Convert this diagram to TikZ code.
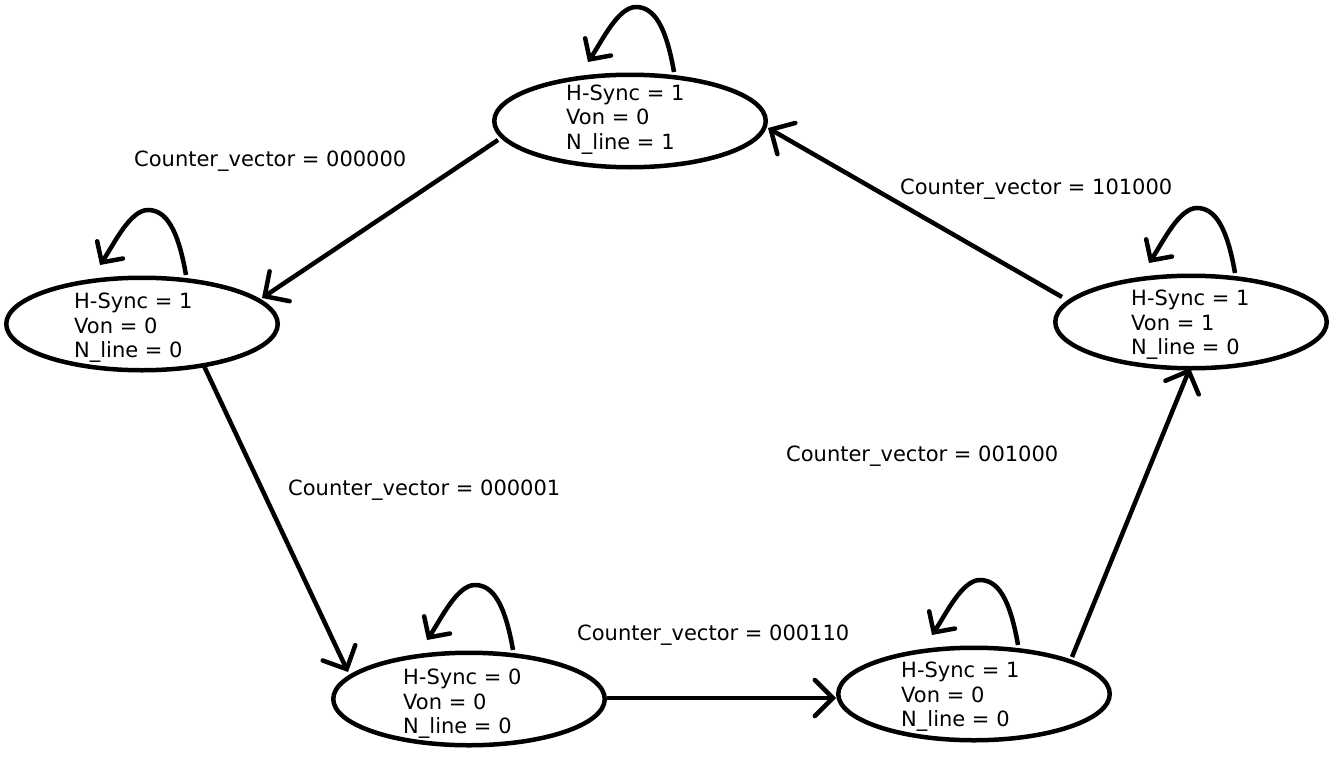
\documentclass[tikz,border=0pt]{standalone}
\usepackage{fontspec}
\setmainfont{DejaVu Sans}
\usetikzlibrary{arrows.meta,shapes.geometric,calc}
\tikzset{
  stnode/.style={draw=black,line width=4.5pt,ellipse,minimum width=271.5pt,minimum height=92.5pt,inner sep=0pt},
  sttext/.style={anchor=west,align=left,inner sep=0pt,font=\fontsize{21}{24.5}\selectfont},
  edgelbl/.style={anchor=base west,inner sep=0pt,font=\fontsize{21}{24.5}\selectfont},
  conn/.style={line width=4.5pt,-{Straight Barb[length=18pt,width=36pt,line cap=round]}},
  selfloop/.style={line width=4.5pt,-{Straight Barb[length=15pt,width=31pt,line cap=round]}}
}
\newcommand{\myloop}[1]{%
  \draw[selfloop] ($(#1.center)+(44,-49)$) .. controls ($(#1.center)+(36,-95)$) and ($(#1.center)+(24,-114)$) .. ($(#1.center)+(6,-114)$)
     .. controls ($(#1.center)+(-12,-114)$) and ($(#1.center)+(-28,-80)$) .. ($(#1.center)+(-42,-59)$);}
\begin{document}
\begin{tikzpicture}[x=1pt,y=-1pt]
\useasboundingbox[fill=white] (0,0) rectangle (1340,760);
\node[stnode] (top) at (630,121) {};
\node[stnode] (left) at (142,324) {};
\node[stnode] (bl) at (469,699) {};
\node[stnode] (br) at (974,694) {};
\node[stnode] (right) at (1191,322) {};
\node[sttext] (toptxt) at (566,119.5) {H-Sync = 1\\Von = 0\\N\_line = 1};
\node[sttext] (lefttxt) at (74,328) {H-Sync = 1\\Von = 0\\N\_line = 0};
\node[sttext] (bltxt) at (403,704) {H-Sync = 0\\Von = 0\\N\_line = 0};
\node[sttext] (brtxt) at (901,697) {H-Sync = 1\\Von = 0\\N\_line = 0};
\node[sttext] (righttxt) at (1131,325) {H-Sync = 1\\Von = 1\\N\_line = 0};
\myloop{top}
\myloop{left}
\myloop{bl}
\myloop{br}
\myloop{right}
\draw[conn] ($(top.center)+(-132,19)$) -- ($(left.center)+(120,-26)$);
\draw[conn] ($(left.center)+(62,42)$) -- ($(bl.center)+(-121,-27)$);
\draw[conn] ($(bl.center)+(138,-1)$) -- ($(br.center)+(-138,4)$);
\draw[conn] ($(br.center)+(98,-37)$) -- ($(right.center)+(-1,46)$);
\draw[conn] ($(right.center)+(-129,-25)$) -- ($(top.center)+(138,7)$);
\node[edgelbl] (l1) at (134,166) {Counter\_vector = 000000};
\node[edgelbl] (l2) at (288,495) {Counter\_vector = 000001};
\node[edgelbl] (l3) at (577,640) {Counter\_vector = 000110};
\node[edgelbl] (l4) at (786,461) {Counter\_vector = 001000};
\node[edgelbl] (l5) at (900,194) {Counter\_vector = 101000};
\end{tikzpicture}
\end{document}
